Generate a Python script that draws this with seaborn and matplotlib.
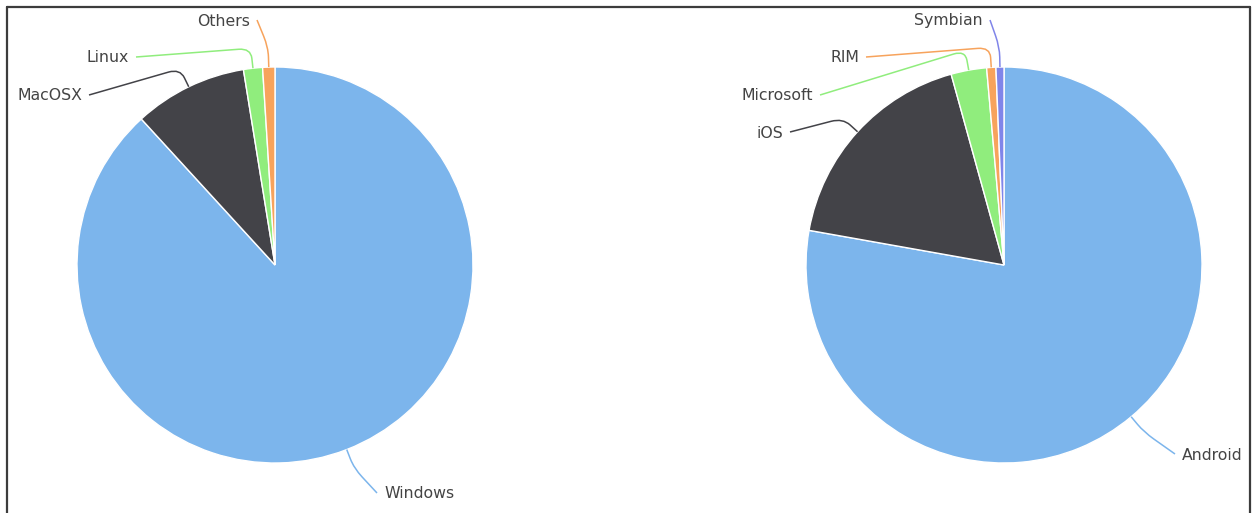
import numpy as np
import matplotlib
matplotlib.use("Agg")
import matplotlib.pyplot as plt
import seaborn as sns
from matplotlib.path import Path
from matplotlib.patches import PathPatch
from matplotlib.lines import Line2D

# ---- data ----
desktop_labels = ["Windows", "MacOSX", "Linux", "Others"]
desktop_values = [88.2, 9.25, 1.55, 1.0]
mobile_labels = ["Android", "iOS", "Microsoft", "RIM", "Symbian"]
mobile_values = [77.8, 17.9, 2.9, 0.75, 0.65]

palette = ["#7cb5ec", "#434348", "#90ed7d", "#f7a35c", "#8085e9"]

sns.set_theme(style="white")
plt.rcParams['font.family'] = ['DejaVu Sans']

W, H = 1257, 513
fig = plt.figure(figsize=(W / 100, H / 100), dpi=100)
ax = fig.add_axes([0, 0, 1, 1])
ax.set_xlim(0, W)
ax.set_ylim(0, H)
ax.axis("off")

R = 198

def yp(y):
    return H - y

# layout: label text anchor (x, y in pixels, align)
left_layout = {
    "Windows": (384, 494, "left"),
    "MacOSX": (82, 96, "right"),
    "Linux": (129, 58, "right"),
    "Others": (250, 21, "right"),
}
right_layout = {
    "Android": (1182, 455, "left"),
    "iOS": (783, 133, "right"),
    "Microsoft": (813, 96, "right"),
    "RIM": (859, 58, "right"),
    "Symbian": (983, 21, "right"),
}

def draw_pie(cx, cy, labels, values, layout):
    cols = palette[:len(values)]
    ax.pie(values, colors=cols, startangle=90, counterclock=False,
           center=(cx, yp(cy)), radius=R, frame=True,
           wedgeprops=dict(edgecolor="white", linewidth=1))
    vals = np.array(values, dtype=float)
    cum = np.cumsum(vals) / vals.sum() * 360
    mids = cum - vals / vals.sum() * 360 / 2
    for lab, m, col in zip(labels, mids, cols):
        t = np.deg2rad(m)
        edge = np.array([cx + R * np.sin(t), yp(cy) + R * np.cos(t)])
        bend = np.array([cx + (R + 20) * np.sin(t), yp(cy) + (R + 20) * np.cos(t)])
        tx, ty, ha = layout[lab]
        ax.text(tx, yp(ty), lab, ha=ha, va="center", fontsize=11.3,
                color="#444444")
        lx = tx + 7 if ha == "right" else tx - 7
        lend = np.array([lx, yp(ty) + 1])
        k = 12
        d1 = lend - bend
        d2 = edge - bend
        p1 = bend + d1 / max(np.linalg.norm(d1), 1e-6) * min(k, np.linalg.norm(d1) / 2)
        p2 = bend + d2 / max(np.linalg.norm(d2), 1e-6) * min(k, np.linalg.norm(d2) / 2)
        path = Path([lend, p1, bend, p2, edge],
                    [Path.MOVETO, Path.LINETO, Path.CURVE3, Path.CURVE3, Path.LINETO])
        ax.add_patch(PathPatch(path, fill=False, edgecolor=col, linewidth=1.1))

draw_pie(275, 265, desktop_labels, desktop_values, left_layout)
draw_pie(1004, 265, mobile_labels, mobile_values, right_layout)

ax.set_xlim(0, W)
ax.set_ylim(0, H)
ax.set_aspect("auto")

# container frame
frame_kw = dict(color="#3c3c3c", linewidth=1.6, transform=ax.transData)
ax.add_line(Line2D([7, 1250], [yp(7), yp(7)], **frame_kw))
ax.add_line(Line2D([7, 7], [yp(7), 0], **frame_kw))
ax.add_line(Line2D([1250, 1250], [yp(7), 0], **frame_kw))

fig.savefig("out.png", dpi=100, facecolor="white")
